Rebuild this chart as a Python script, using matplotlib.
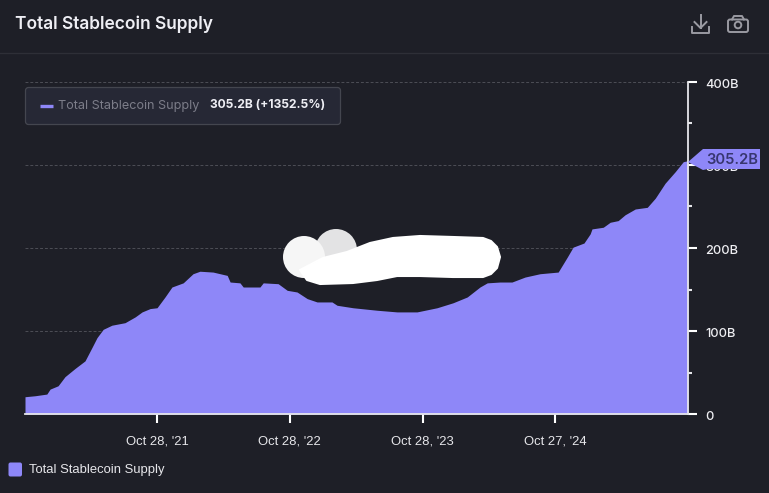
import pandas as pd
import matplotlib
matplotlib.use("Agg")
import matplotlib.pyplot as plt
from matplotlib.patches import Circle, FancyBboxPatch, Polygon
from matplotlib.transforms import ScaledTranslation

# Values: days since the first date, supply in billions
start_date = "2020-10-30"
days = [
    0, 28, 60, 69, 91, 110, 138, 165, 184, 198, 215, 239, 275, 303, 322, 344, 363,
    385, 404, 435, 462, 481, 517, 556, 564, 591, 600, 646, 655, 696, 721, 748, 776,
    803, 844, 858, 902, 968, 1023, 1078, 1133, 1177, 1216, 1251, 1271, 1306, 1339,
    1375, 1416, 1466, 1491, 1507, 1537, 1554, 1559, 1590, 1609, 1631, 1650, 1678,
    1711, 1733, 1760, 1788, 1810, 1823,
]
supply = [
    20.8, 22, 24, 30, 34, 45, 55, 64, 80, 92, 102, 107, 110, 117, 123, 127, 128,
    141, 153, 158, 169, 172, 171, 167, 159, 158, 153, 153, 158, 157, 149, 147, 139,
    135, 135, 131, 128, 125, 123, 123, 128, 134, 141, 153, 158, 159, 159,
    165, 169, 171, 189, 201, 206, 217, 223, 225, 231, 233, 240, 247,
    249, 260, 278, 292, 304, 305.2,
]
tick_dates = ["2021-10-28", "2022-10-28", "2023-10-28", "2024-10-27"]
tick_labels = ["Oct 28, '21", "Oct 28, '22", "Oct 28, '23", "Oct 27, '24"]
major_y = [0, 100, 200, 300, 400]
major_y_labels = ["0", "100B", "200B", "300B", "400B"]
minor_y = [50, 150, 250, 350]

BG = "#1e1f27"
FILL = "#8e87f8"
W, H = 769, 493

x = pd.Timestamp(start_date) + pd.to_timedelta(days, unit="D")

fig = plt.figure(figsize=(W / 100, H / 100), dpi=100, facecolor=BG)
ax = fig.add_axes([25 / W, 1 - 414 / H, 663 / W, 332 / H], facecolor=BG)

ax.fill_between(x, supply, 0, color=FILL, linewidth=0, zorder=2)
ax.set_xlim(x[0], x[-1])
ax.set_ylim(0, 400)

ax.grid(axis="y", color="#4d4e56", linestyle=(0, (3, 2)), linewidth=0.7, zorder=1)
ax.set_axisbelow(True)

for side in ["top", "left"]:
    ax.spines[side].set_visible(False)
for side in ["right", "bottom"]:
    ax.spines[side].set_color("#e6e6ea")
    ax.spines[side].set_linewidth(1.3)
    ax.spines[side].set_zorder(4)

ax.yaxis.tick_right()
ax.set_yticks(major_y)
ax.set_yticklabels(major_y_labels)
ax.set_yticks(minor_y, minor=True)
ax.tick_params(axis="y", which="major", length=6.5, width=1.5, color="white", pad=6,
               labelcolor="#eeeef2", labelsize=9.2)
ax.tick_params(axis="y", which="minor", length=3, width=1.5, color="#e6e6ea")
shift = ScaledTranslation(0, -1.5 / 100, fig.dpi_scale_trans)
for lab in ax.get_yticklabels():
    lab.set_family("Inter")
    lab.set_fontweight("medium")
    lab.set_transform(lab.get_transform() + shift)

ax.set_xticks(pd.to_datetime(tick_dates))
ax.set_xticklabels(tick_labels, family="Liberation Sans", fontsize=9.4)
ax.tick_params(axis="x", length=6.5, width=1.5, color="white", pad=9, labelcolor="#e6e6ea")

# Overlay in pixel coordinates for the card furniture
ov = fig.add_axes([0, 0, 1, 1], facecolor="none", zorder=5)
ov.set_xlim(0, W)
ov.set_ylim(H, 0)
ov.axis("off")

ov.plot([0, 768], [53, 53], color="#2e2f37", linewidth=0.9)
ov.text(15, 24.5, "Total Stablecoin Supply", color="#eeeef4", fontsize=12.5,
        family="Inter", fontweight="semibold", va="center")

# Tooltip
ov.add_patch(FancyBboxPatch((25.5, 87.5), 315, 37, boxstyle="round,pad=0,rounding_size=3",
                            facecolor="#262835", edgecolor="#44464f", linewidth=0.9))
ov.plot([40, 53], [105.5, 105.5], color=FILL, linewidth=2.4, solid_capstyle="butt")
ov.text(58, 105.5, "Total Stablecoin Supply", color="#7c7d89", fontsize=9.1,
        family="Inter", va="center")
ov.text(209.5, 105.5, "305.2B (+1352.5%)", color="#eeeef4", fontsize=8.7,
        family="Inter", fontweight="bold", va="center")

# Last value tag
ov.add_patch(Polygon([(688, 162), (703, 149), (760, 149), (760, 169), (708, 169), (703, 170)],
                     closed=True, facecolor=FILL, edgecolor="none"))
ov.text(706, 159.5, "305.2B", color="#37366f", fontsize=10.6, family="Inter",
        fontweight="semibold", va="center")

# Bottom legend
ov.add_patch(FancyBboxPatch((8.5, 462.5), 13.5, 14, boxstyle="round,pad=0,rounding_size=2",
                            facecolor=FILL, edgecolor="none"))
ov.text(29, 469.5, "Total Stablecoin Supply", color="#e6e6ea", fontsize=9.4,
        family="Liberation Sans", va="center")

# Download icon
icon = "#9a9aa2"
ov.plot([692, 692, 709, 709], [27, 33, 33, 27], color=icon, linewidth=1.4, solid_joinstyle="round")
ov.plot([700.5, 700.5], [14.5, 28], color=icon, linewidth=1.4)
ov.plot([694.5, 700.5, 706.5], [22, 28, 22], color=icon, linewidth=1.4)

# Camera icon
ov.add_patch(FancyBboxPatch((728, 19.5), 20, 12.5, boxstyle="round,pad=0,rounding_size=2",
                            facecolor="none", edgecolor=icon, linewidth=1.4))
ov.plot([732, 734, 742, 744], [19.5, 16, 16, 19.5], color=icon, linewidth=1.4)
ov.add_patch(Circle((738, 25), 3.3, facecolor="none", edgecolor=icon, linewidth=1.4))

# White scribble over the chart
ov.add_patch(Circle((336, 250), 21, facecolor="#e3e3e4", edgecolor="none"))
ov.add_patch(Circle((304, 257), 21, facecolor="#f6f6f6", edgecolor="none"))
scribble = [
    (323, 258), (347, 252), (370, 243), (393, 238), (420, 236), (453, 237), (483, 238),
    (491, 241), (497, 247), (500, 257), (497, 268), (491, 274), (483, 277), (453, 277),
    (420, 276), (397, 276), (377, 280), (353, 283), (320, 284), (307, 280), (300, 270),
]
ov.add_patch(Polygon(scribble, closed=True, facecolor="white", edgecolor="white",
                     linewidth=1.5, joinstyle="round"))

fig.savefig("out.png", dpi=100, facecolor=BG)
